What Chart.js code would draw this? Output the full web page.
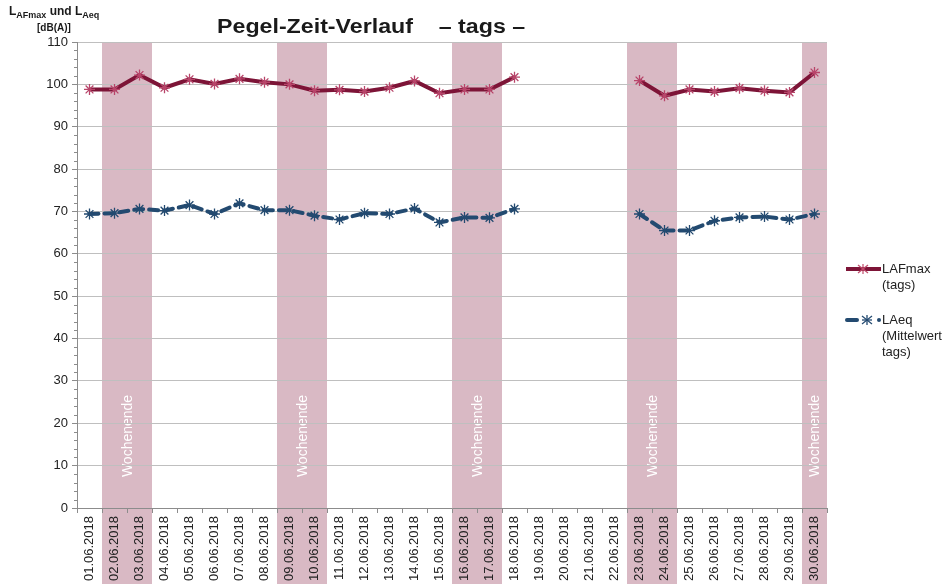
<!DOCTYPE html>
<html>
<head>
<meta charset="utf-8">
<script src="https://cdn.jsdelivr.net/npm/chart.js@4/dist/chart.umd.min.js"></script>
<style>
  body { margin:0; background:#fff; font-family:"Liberation Sans", Arial, sans-serif; }
  #wrap { position:relative; width:943px; height:584px; overflow:hidden; }
  #title { position:absolute; left:217px; top:15px; font-weight:bold; font-size:20px; color:#1a1a1a; white-space:pre; transform:scaleX(1.16); transform-origin:left top; }
  #ylab { position:absolute; left:9px; top:4px; font-weight:bold; font-size:12px; color:#1a1a1a; line-height:14px; white-space:nowrap; }
  #ylab sub { font-size:9px; vertical-align:-3px; }
  #ylab2 { position:absolute; left:37px; top:22px; font-weight:bold; font-size:10px; color:#1a1a1a; }
  .leg { position:absolute; left:845px; font-size:13px; color:#222; line-height:16px; }
  .leg svg { position:absolute; left:0; top:0; }
  .leg span { position:absolute; left:37px; top:0; white-space:nowrap; }
</style>
</head>
<body>
<div id="wrap">
  <canvas id="c" width="943" height="584"></canvas>
  <div id="title">Pegel-Zeit-Verlauf    – tags –</div>
  <div id="ylab">L<sub>AFmax</sub> und L<sub>Aeq</sub></div>
  <div id="ylab2">[dB(A)]</div>
  <div class="leg" style="top:261px">
    <svg width="40" height="16"><line x1="1" y1="8" x2="36" y2="8" stroke="#7d1437" stroke-width="4"/>
      <g stroke="#c04c6c" stroke-width="1.2"><line x1="13" y1="4" x2="23" y2="12"/><line x1="13" y1="12" x2="23" y2="4"/><line x1="18" y1="3" x2="18" y2="13"/></g></svg>
    <span>LAFmax<br>(tags)</span>
  </div>
  <div class="leg" style="top:312px">
    <svg width="40" height="16"><line x1="2" y1="8" x2="12" y2="8" stroke="#234a70" stroke-width="4" stroke-linecap="round"/>
      <circle cx="34" cy="8" r="2" fill="#234a70"/>
      <g stroke="#234a70" stroke-width="1.3"><line x1="17" y1="4" x2="27" y2="12"/><line x1="17" y1="12" x2="27" y2="4"/><line x1="22" y1="3" x2="22" y2="13"/><line x1="17" y1="8" x2="27" y2="8"/></g></svg>
    <span>LAeq<br>(Mittelwert<br>tags)</span>
  </div>
</div>
<script>
const days = ['01.06.2018','02.06.2018','03.06.2018','04.06.2018','05.06.2018','06.06.2018','07.06.2018','08.06.2018','09.06.2018','10.06.2018',
  '11.06.2018','12.06.2018','13.06.2018','14.06.2018','15.06.2018','16.06.2018','17.06.2018','18.06.2018','19.06.2018','20.06.2018',
  '21.06.2018','22.06.2018','23.06.2018','24.06.2018','25.06.2018','26.06.2018','27.06.2018','28.06.2018','29.06.2018','30.06.2018'];

const lafmax = [98.8,98.8,102.2,99.2,101.2,100.1,101.3,100.5,100.0,98.5,
  98.7,98.3,99.2,100.8,97.9,98.8,98.8,101.7,null,null,
  null,null,100.9,97.3,98.8,98.3,99.1,98.5,98.1,102.8];

const laeq = [69.4,69.6,70.6,70.2,71.5,69.4,71.9,70.3,70.3,69.0,
  68.1,69.6,69.4,70.7,67.4,68.6,68.5,70.6,null,null,
  null,null,69.4,65.5,65.5,67.8,68.6,68.8,68.1,69.4];

// Wochenenden (Start- und End-Tag)
const weekends = [['02.06.2018','03.06.2018'],['09.06.2018','10.06.2018'],['16.06.2018','17.06.2018'],['23.06.2018','24.06.2018'],['30.06.2018','30.06.2018']];
const weekendText = 'Wochenende';

const yTicksMajor = [0,10,20,30,40,50,60,70,80,90,100,110];

const bandPlugin = {
  id:'bands',
  beforeDraw(chart) {
    const x = chart.scales.x, y = chart.scales.y, ctx = chart.ctx;
    const half = (x.getPixelForValue(1) - x.getPixelForValue(0)) / 2;
    ctx.save();
    ctx.fillStyle = '#d9b9c4';
    weekends.forEach(w => {
      const x0 = x.getPixelForValue(days.indexOf(w[0])) - half;
      const x1 = x.getPixelForValue(days.indexOf(w[1])) + half;
      ctx.fillRect(x0, y.top, x1 - x0, chart.height - y.top);
    });
    ctx.fillStyle = '#ffffff';
    ctx.font = '14px "Liberation Sans", Arial, sans-serif';
    ctx.textAlign = 'center';
    ctx.textBaseline = 'middle';
    weekends.forEach(w => {
      const cx = (x.getPixelForValue(days.indexOf(w[0])) + x.getPixelForValue(days.indexOf(w[1]))) / 2;
      ctx.save();
      ctx.translate(cx + 1, y.getPixelForValue(17));
      ctx.rotate(-Math.PI/2);
      ctx.fillText(weekendText, 0, 0);
      ctx.restore();
    });
    ctx.restore();
  },
  afterDraw(chart) {
    const y = chart.scales.y, ctx = chart.ctx;
    // kleine Zwischenstriche an der y-Achse
    ctx.save();
    ctx.strokeStyle = '#8c8c8c';
    ctx.lineWidth = 1;
    for (let v = 0; v <= 110; v += 2) {
      if (v % 10 === 0) continue;
      const py = Math.round(y.getPixelForValue(v)) + 0.5;
      ctx.beginPath();
      ctx.moveTo(y.right - 3, py);
      ctx.lineTo(y.right, py);
      ctx.stroke();
    }
    ctx.restore();
  }
};

new Chart(document.getElementById('c'), {
  type:'line',
  data:{
    labels:days,
    datasets:[
      { label:'LAFmax (tags)', data:lafmax, borderColor:'#7d1437', backgroundColor:'#7d1437', borderWidth:4,
        pointStyle:'star', pointRadius:5.5, pointBorderColor:'#b8456a', pointBorderWidth:1.3, spanGaps:false, tension:0 },
      { label:'LAeq (Mittelwert tags)', data:laeq, borderColor:'#234a70', backgroundColor:'#234a70', borderWidth:4,
        borderDash:[9,6], borderCapStyle:'round', pointStyle:'star', pointRadius:5.5, pointBorderColor:'#234a70', pointBorderWidth:1.3, spanGaps:false, tension:0 }
    ]
  },
  options:{
    responsive:false, animation:false,
    layout:{ padding:{ left:0, right:116, top:42, bottom:0 } },
    plugins:{ legend:{ display:false }, title:{ display:false }, tooltip:{ enabled:false } },
    scales:{
      x:{
        offset:true,
        afterFit(s){ s.height = 76; },
        grid:{ offset:true, drawOnChartArea:false, color:'#8c8c8c', tickLength:5 },
        border:{ color:'#8c8c8c' },
        ticks:{ minRotation:90, maxRotation:90, autoSkip:false, padding:3, color:'#222', font:{ family:'"Liberation Sans", Arial', size:13 } }
      },
      y:{
        min:0, max:110,
        afterFit(s){ s.width = 77; },
        afterBuildTicks(s){ s.ticks = yTicksMajor.map(v => ({ value:v })); },
        grid:{ color:'#bfbfbf', tickColor:'#8c8c8c', tickLength:5 },
        border:{ color:'#8c8c8c' },
        ticks:{ padding:4, color:'#222', font:{ family:'"Liberation Sans", Arial', size:13 } }
      }
    }
  },
  plugins:[bandPlugin]
});
</script>
</body>
</html>
